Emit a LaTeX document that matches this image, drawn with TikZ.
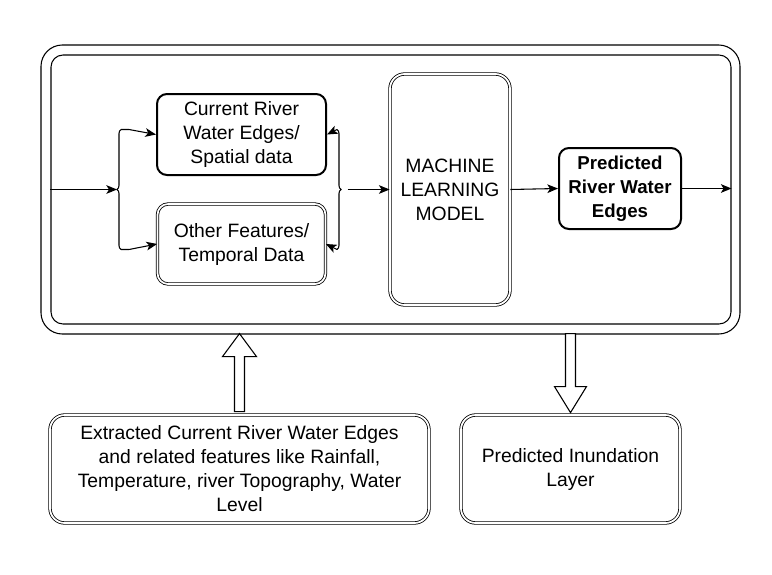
\documentclass[tikz,border=0pt]{standalone}
\usepackage{fontspec}
\setmainfont{Liberation Sans}
\usetikzlibrary{arrows.meta,decorations.pathreplacing}

\begin{document}
\begin{tikzpicture}[x=0.75pt, y=-0.75pt,
        box/.style={draw, align=center, inner sep=0pt, font=\fontsize{14.5}{18}\selectfont},
        thickbox/.style={box, line width=1.5pt, rounded corners=7.5pt},
        dblbox/.style={box, double, line width=0.6pt, double distance=1.3pt, rounded corners=8pt},
        flow/.style={-{Stealth[length=8pt,width=6.5pt,inset=2pt]}, line width=0.8pt},
        hollow/.style={draw, line width=0.8pt, fill=white}]

        \useasboundingbox (0,0) rectangle (772,575);

        % frame round the model
        \node[draw, line width=0.8pt, rounded corners=16pt, minimum width=524.25pt, minimum height=216.75pt] (frame) at (390.5,189.5) {};
        \node[draw, line width=0.8pt, rounded corners=9pt, minimum width=510pt, minimum height=201.75pt] (pipe) at (391,189.5) {};

        % Add text labels
        \node[thickbox, minimum width=126.75pt, minimum height=60.75pt] (cur) at (241.5,134.5) {Current River\\Water Edges/\\Spatial data};
        \node[dblbox, minimum width=126pt, minimum height=60pt] (oth) at (241.5,244) {Other Features/\\Temporal Data};
        \node[dblbox, rounded corners=11pt, minimum width=90pt, minimum height=173.25pt] (ml) at (450,189.5) {MACHINE\\LEARNING\\MODEL};
        \node[thickbox, minimum width=91.5pt, minimum height=60.75pt, font=\fontsize{14}{18}\selectfont\bfseries] (pred) at (620,188.5) {Predicted\\River Water\\Edges};

        \node[dblbox, rounded corners=11pt, minimum width=284.25pt, minimum height=81pt] (extr) at (239.5,469) {Extracted Current River Water Edges\\and related features like Rainfall,\\Temperature, river Topography, Water\\Level};
        \node[dblbox, rounded corners=11pt, minimum width=164.25pt, minimum height=81pt] (inund) at (570.5,469) {Predicted Inundation\\Layer};

        % braces
        \coordinate (lbtop) at (121,129.5);
        \coordinate (lbbot) at (121,249.5);
        \coordinate (lbtip) at (117,189.5);
        \coordinate (rbtop) at (337,129.5);
        \coordinate (rbbot) at (337,249.5);
        \coordinate (rbtip) at (341,189.5);
        \draw[decorate, decoration={brace, amplitude=3pt}, line width=0.8pt] (lbbot) -- (lbtop);
        \draw[decorate, decoration={brace, amplitude=3pt}, line width=0.8pt] (rbtop) -- (rbbot);

        % draw arrows
        \draw[flow] (pipe.west) -- (lbtip);
        \draw[flow] (lbtop) -- ++(8,0) -- (cur.west);
        \draw[flow] (lbbot) -- ++(8,0) -- (oth.west);
        \draw[flow] (rbtop) -- (cur.east);
        \draw[flow] (rbbot) -- (oth.east);
        \draw[flow, shorten <=5pt] (rbtip) -- (ml.west);
        \draw[flow] (ml.east) -- (pred.west);
        \draw[flow] (pred.east) -- (pred.east -| pipe.east);

        % hollow arrows in and out of the frame
        \draw[hollow] (extr.north) ++(-5,-3) -- ++(0,-55) -- ++(-12,0) -- ++(17,-23)
            -- ++(17,23) -- ++(-12,0) -- ++(0,55) -- cycle;
        \draw[hollow] (inund.north) ++(0,-2) -- ++(-16,-26) -- ++(11,0) -- ++(0,-53)
            -- ++(10,0) -- ++(0,53) -- ++(11,0) -- cycle;
    \end{tikzpicture}
\end{document}
